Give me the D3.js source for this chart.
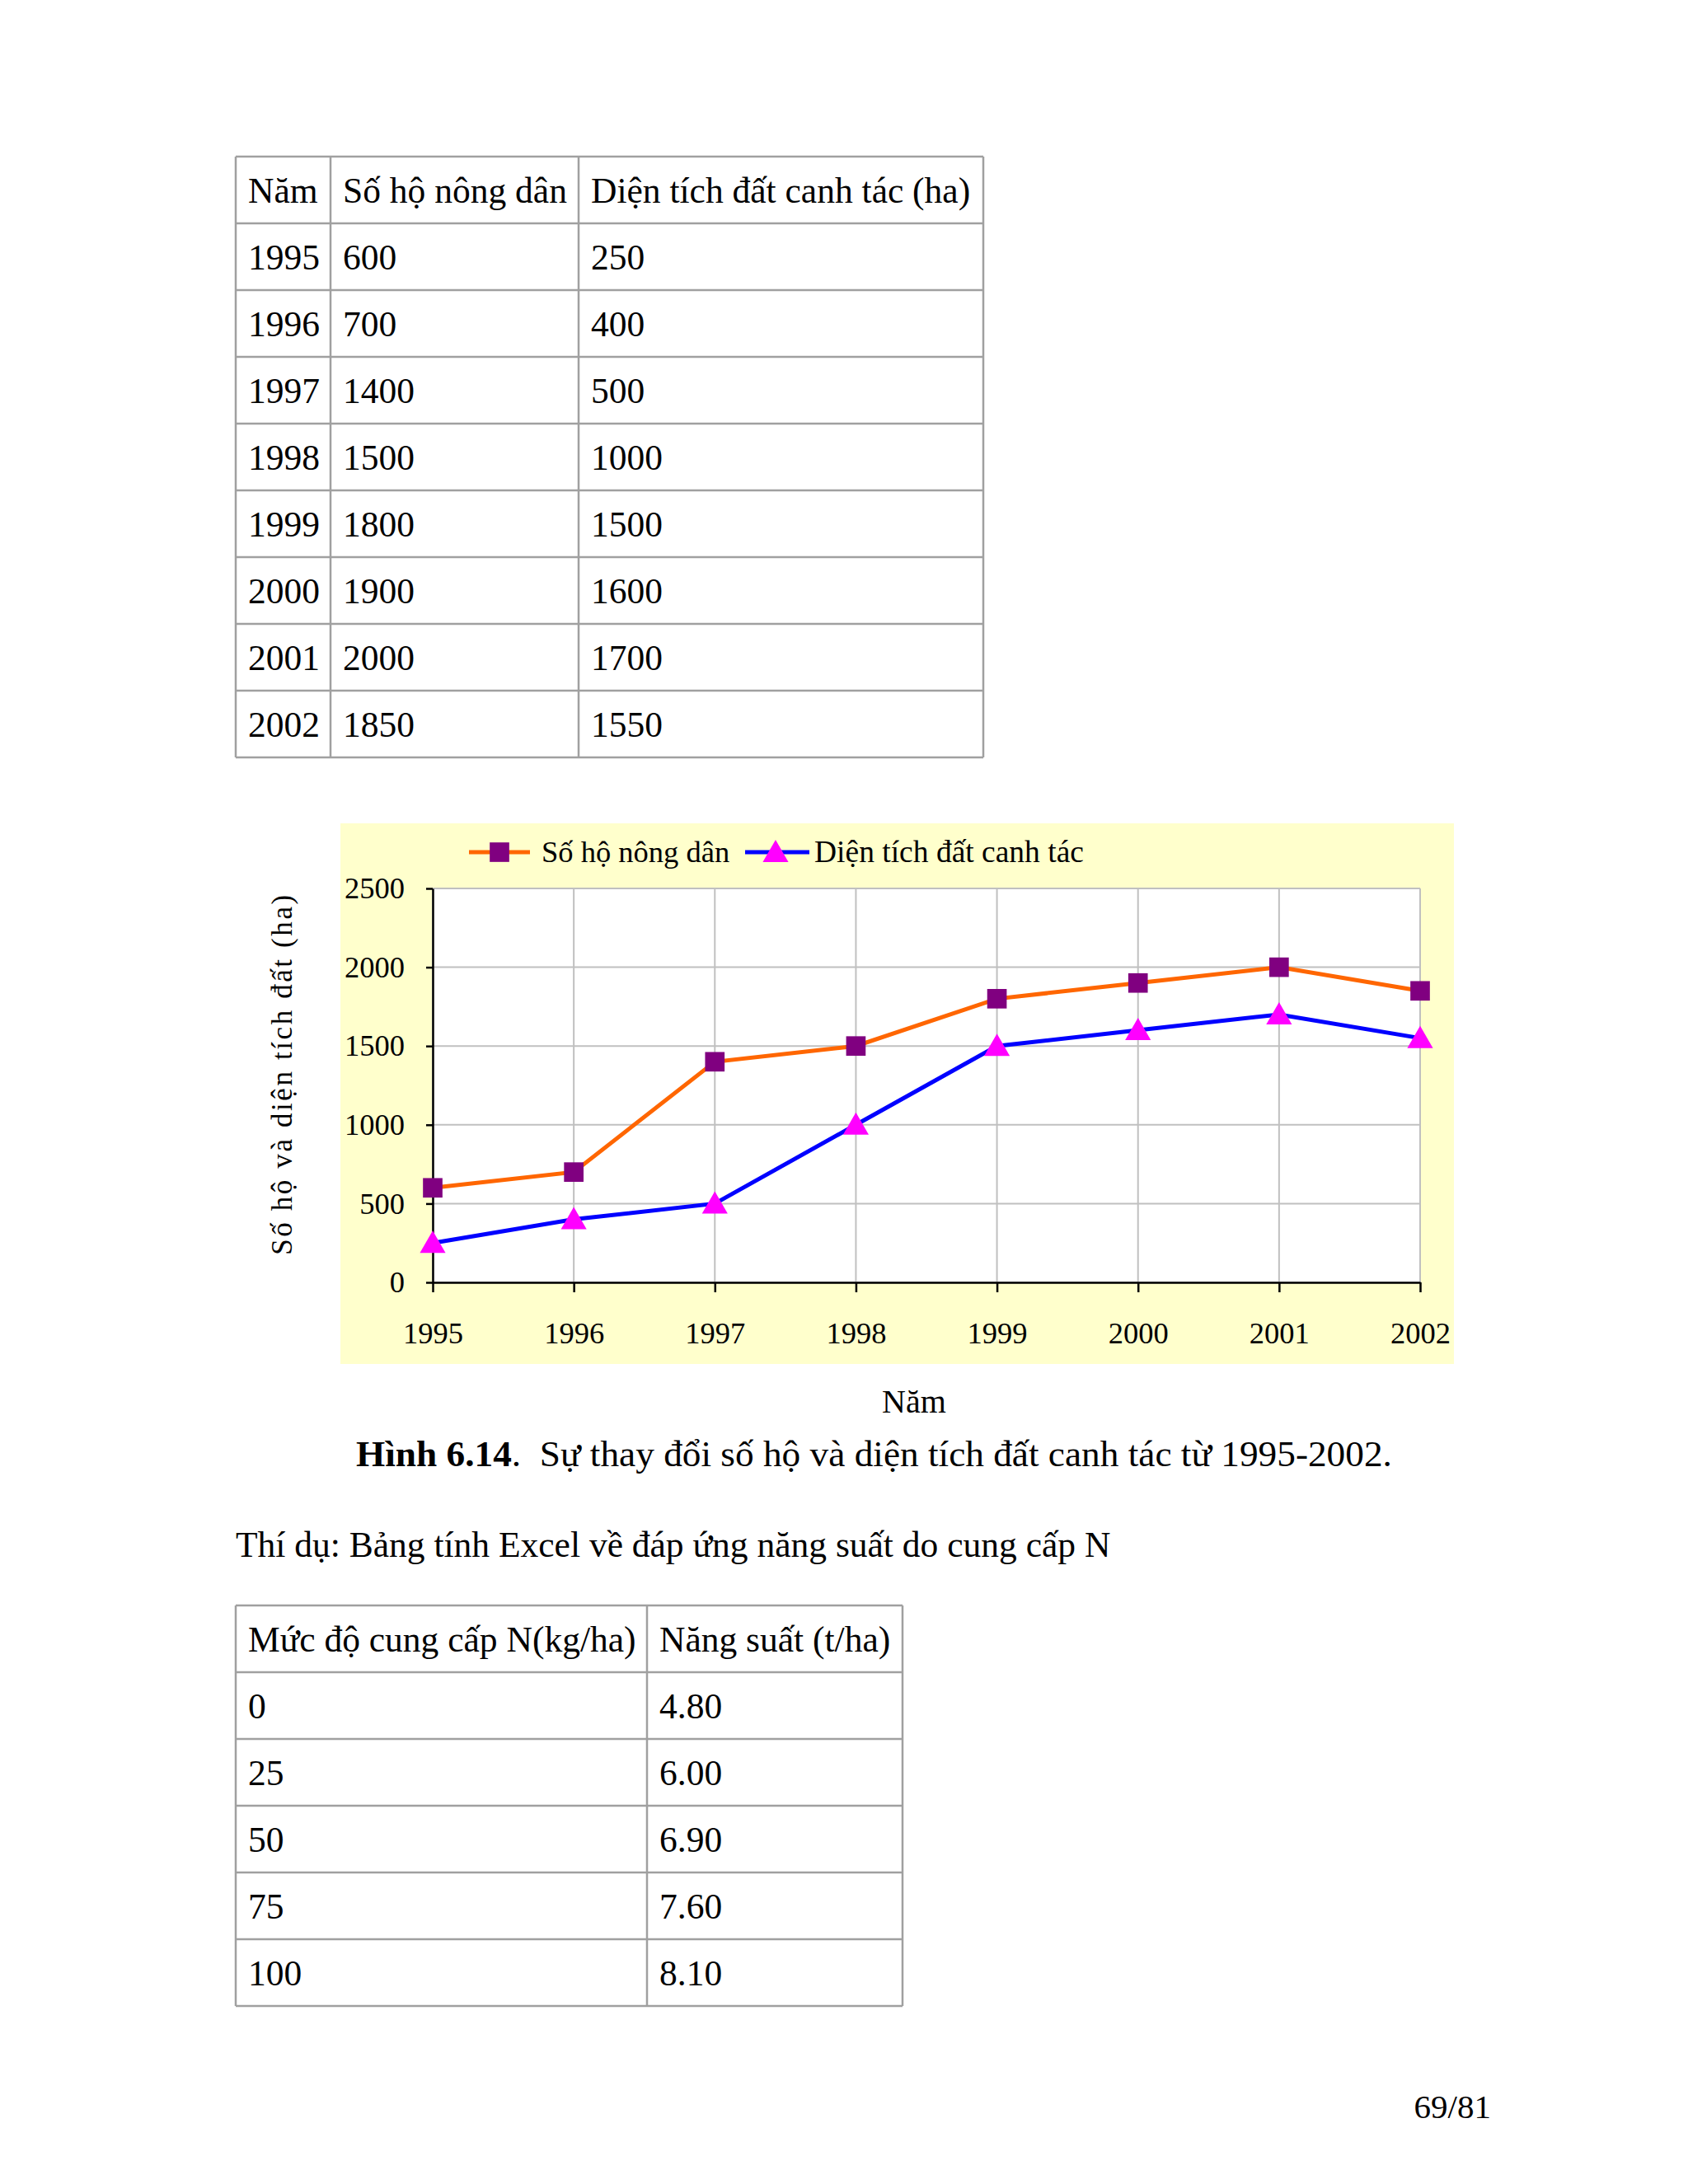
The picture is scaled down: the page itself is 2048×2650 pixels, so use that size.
<!DOCTYPE html>
<html>
<head>
<meta charset="utf-8">
<script src="https://cdn.jsdelivr.net/npm/d3@7"></script>
<style>
  body { margin: 0; background: #fff; }
  text { font-family: "Liberation Serif", "Times New Roman", serif; }
</style>
</head>
<body>
<div id="page"></div>
<script>
// data
const years = [1995, 1996, 1997, 1998, 1999, 2000, 2001, 2002];
const soHo = [600, 700, 1400, 1500, 1800, 1900, 2000, 1850];
const dienTich = [250, 400, 500, 1000, 1500, 1600, 1700, 1550];
const table1Header = ['Năm', 'Số hộ nông dân', 'Diện tích đất canh tác (ha)'];
const yTicks = [0, 500, 1000, 1500, 2000, 2500];
const nLevels = ['0', '25', '50', '75', '100'];
const nangSuat = ['4.80', '6.00', '6.90', '7.60', '8.10'];
const table2Header = ['Mức độ cung cấp N(kg/ha)', 'Năng suất (t/ha)'];

const svg = d3.select('#page').append('svg')
  .attr('width', 2048)
  .attr('height', 2650);

svg.append('rect').attr('width', 2048).attr('height', 2650).attr('fill', '#fff');

// generic table drawer
function drawTable(rows, colEdges, top, rowH) {
  const g = svg.append('g');
  const yRow = d3.scaleLinear().domain([0, rows.length]).range([top, top + rows.length * rowH]);

  rows.forEach((row, i) => {
    row.forEach((cell, j) => {
      g.append('text')
        .attr('x', colEdges[j] + 15)
        .attr('y', yRow(i) + 56)
        .attr('font-size', 43.5)
        .attr('fill', '#000')
        .text(cell);
    });
  });

  // horizontal lines
  d3.range(rows.length + 1).forEach(i => {
    g.append('line')
      .attr('x1', colEdges[0]).attr('x2', colEdges[colEdges.length - 1])
      .attr('y1', yRow(i)).attr('y2', yRow(i))
      .attr('stroke', '#a0a0a0').attr('stroke-width', 2.5);
  });
  // vertical lines
  colEdges.forEach(cx => {
    g.append('line')
      .attr('x1', cx).attr('x2', cx)
      .attr('y1', yRow(0)).attr('y2', yRow(rows.length))
      .attr('stroke', '#a0a0a0').attr('stroke-width', 2.5);
  });
}

const rows1 = [table1Header].concat(years.map((yr, i) => [String(yr), String(soHo[i]), String(dienTich[i])]));
drawTable(rows1, [286, 401, 702, 1193], 190, 81);

// chart
const chartBg = {x: 413, y: 999, w: 1351, h: 656};
svg.append('rect')
  .attr('x', chartBg.x).attr('y', chartBg.y)
  .attr('width', chartBg.w).attr('height', chartBg.h)
  .attr('fill', '#ffffcc');

const x = d3.scalePoint().domain(years).range([525, 1723]);
const y = d3.scaleLinear().domain([0, 2500]).range([1556, 1078]);

svg.append('rect')
  .attr('x', x(1995)).attr('y', y(2500))
  .attr('width', x(2002) - x(1995)).attr('height', y(0) - y(2500))
  .attr('fill', '#fff');

// grid
svg.append('g').selectAll('line').data(yTicks).join('line')
  .attr('x1', x(1995)).attr('x2', x(2002))
  .attr('y1', d => y(d)).attr('y2', d => y(d))
  .attr('stroke', '#c0c0c0').attr('stroke-width', 2);
svg.append('g').selectAll('line').data(years).join('line')
  .attr('x1', d => x(d)).attr('x2', d => x(d))
  .attr('y1', y(0)).attr('y2', y(2500))
  .attr('stroke', '#c0c0c0').attr('stroke-width', 2);

// axes
const yAxis = svg.append('g')
  .attr('transform', 'translate(' + x(1995) + ',0)')
  .call(d3.axisLeft(y).tickValues(yTicks).tickFormat(d3.format('d'))
    .tickSize(8).tickPadding(26).tickSizeOuter(0));
const xAxis = svg.append('g')
  .attr('transform', 'translate(0,' + y(0) + ')')
  .call(d3.axisBottom(x).tickFormat(d3.format('d'))
    .tickSize(12).tickPadding(36).tickSizeOuter(0));

[yAxis, xAxis].forEach(a => {
  a.select('.domain').attr('stroke', '#000').attr('stroke-width', 2.5);
  a.selectAll('.tick line').attr('stroke', '#000').attr('stroke-width', 2.5);
  a.selectAll('.tick text')
    .attr('font-size', 36.5)
    .attr('fill', '#000');
});

// lines
const line = d3.line()
  .x((d, i) => x(years[i]))
  .y(d => y(d));

svg.append('path')
  .attr('d', line(soHo))
  .attr('fill', 'none').attr('stroke', '#ff6600').attr('stroke-width', 5);
svg.append('path')
  .attr('d', line(dienTich))
  .attr('fill', 'none').attr('stroke', '#0000ff').attr('stroke-width', 5);

const square = d3.symbol().type(d3.symbolSquare).size(560);
const triangle = d3.symbol().type(d3.symbolTriangle).size(420);

svg.append('g').selectAll('path').data(soHo).join('path')
  .attr('transform', (d, i) => 'translate(' + x(years[i]) + ',' + y(d) + ')')
  .attr('d', square)
  .attr('fill', '#800080');
svg.append('g').selectAll('path').data(dienTich).join('path')
  .attr('transform', (d, i) => 'translate(' + x(years[i]) + ',' + (y(d) + 3) + ')')
  .attr('d', triangle)
  .attr('fill', '#ff00ff');

// legend
const legendY = 1034;
const leg = svg.append('g');
leg.append('line').attr('x1', 569).attr('x2', 643).attr('y1', legendY).attr('y2', legendY)
  .attr('stroke', '#ff6600').attr('stroke-width', 5);
leg.append('path').attr('transform', 'translate(606,' + legendY + ')').attr('d', square).attr('fill', '#800080');
leg.append('text').attr('x', 657).attr('y', legendY + 12).attr('font-size', 36.5).text('Số hộ nông dân');
leg.append('line').attr('x1', 904).attr('x2', 982).attr('y1', legendY).attr('y2', legendY)
  .attr('stroke', '#0000ff').attr('stroke-width', 5);
leg.append('path').attr('transform', 'translate(941,' + (legendY + 3) + ')').attr('d', triangle).attr('fill', '#ff00ff');
leg.append('text').attr('x', 988).attr('y', legendY + 12).attr('font-size', 37.5).text('Diện tích đất canh tác');

// axis titles
svg.append('text')
  .attr('transform', 'translate(354,1303) rotate(-90)')
  .attr('text-anchor', 'middle')
  .attr('font-size', 35)
  .attr('letter-spacing', 2.6)
  .text('Số hộ và diện tích đất (ha)');

svg.append('text')
  .attr('x', 1109).attr('y', 1714)
  .attr('text-anchor', 'middle')
  .attr('font-size', 40)
  .text('Năm');

// caption
const cap = svg.append('text').attr('x', 432).attr('y', 1779).attr('font-size', 45.3);
cap.append('tspan').attr('font-weight', 'bold').text('Hình 6.14');
cap.append('tspan').attr('xml:space', 'preserve').text('.  Sự thay đổi số hộ và diện tích đất canh tác từ 1995-2002.');

// paragraph
svg.append('text')
  .attr('x', 286).attr('y', 1889)
  .attr('font-size', 43.5)
  .text('Thí dụ: Bảng tính Excel về đáp ứng năng suất do cung cấp N');

const rows2 = [table2Header].concat(nLevels.map((n, i) => [n, nangSuat[i]]));
drawTable(rows2, [286, 785, 1095], 1948, 81);

// page number
svg.append('text')
  .attr('x', 1809).attr('y', 2570)
  .attr('text-anchor', 'end')
  .attr('font-size', 41)
  .text('69/81');
</script>
</body>
</html>
